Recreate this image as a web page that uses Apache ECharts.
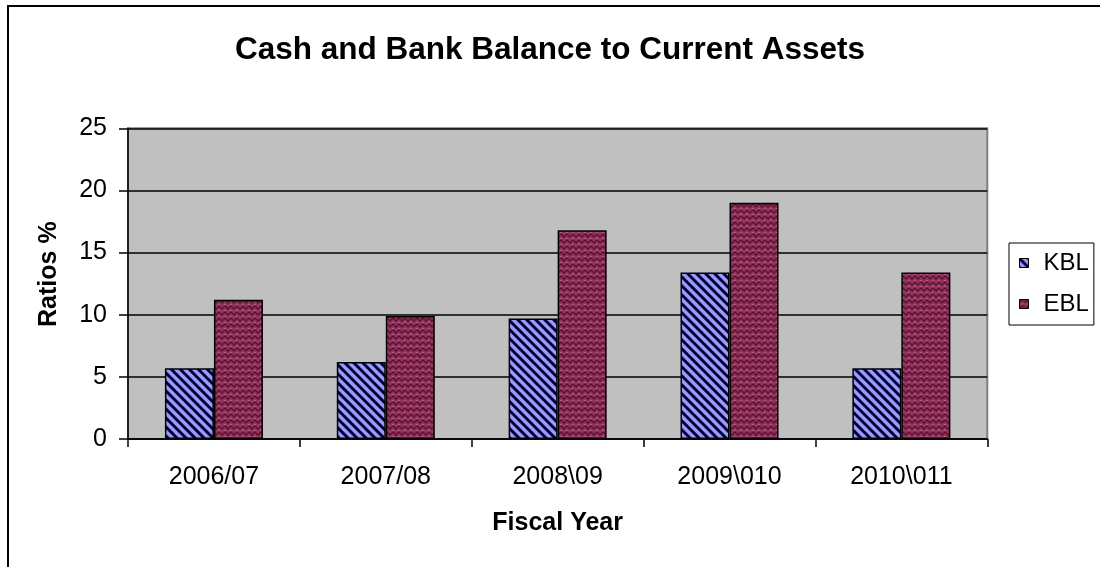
<!DOCTYPE html>
<html>
<head>
<meta charset="utf-8">
<title>Cash and Bank Balance to Current Assets</title>
<script src="https://cdn.jsdelivr.net/npm/echarts@6.0.0/dist/echarts.min.js"></script>
<style>
  html, body { margin: 0; padding: 0; background: #fff; overflow: hidden; }
  #chart { width: 1100px; height: 567px; }
</style>
</head>
<body>
<div id="chart"></div>
<script>
// ---- data ----
const categories = ['2006/07', '2007/08', '2008\\09', '2009\\010', '2010\\011'];
const kblValues = [5.7, 6.2, 9.7, 13.4, 5.7];
const eblValues = [11.2, 9.9, 16.8, 19.0, 13.4];
const seriesNames = ['KBL', 'EBL'];
const yMin = 0, yMax = 25, yStep = 5;

const FONT = "'Liberation Sans', Arial, sans-serif";

// Diagonal stripe fill (light blue with dark navy stripes)
function stripeFill() {
  const W = 36, H = 36, n = 4;
  const c = document.createElement('canvas');
  c.width = W; c.height = H;
  const g = c.getContext('2d');
  g.fillStyle = '#9999FF';
  g.fillRect(0, 0, W, H);
  g.strokeStyle = '#00002e';
  g.lineWidth = 2.9;
  for (let k = -2 * n; k <= 2 * n; k++) {
    const x0 = k * W / n;
    g.beginPath();
    g.moveTo(x0 - W, -H);
    g.lineTo(x0 + 2 * W, 2 * H);
    g.stroke();
  }
  return { image: c, repeat: 'repeat' };
}

// Woven herringbone fill (maroon with darker chevrons and pink flecks)
function weaveFill() {
  const W = 12, H = 12;
  const c = document.createElement('canvas');
  c.width = W; c.height = H;
  const g = c.getContext('2d');
  g.fillStyle = '#96345f';
  g.fillRect(0, 0, W, H);
  g.strokeStyle = '#55122f';
  g.lineWidth = 1.4;
  for (let row = -1; row <= 2; row++) {
    const y = row * 6;
    g.beginPath();
    g.moveTo(-6, y + 3);
    for (let x = -3; x <= W + 6; x += 6) {
      g.lineTo(x, y);
      g.lineTo(x + 3, y + 3);
    }
    g.stroke();
  }
  g.fillStyle = 'rgba(214,128,168,0.7)';
  for (let row = 0; row < 2; row++) {
    for (let x = 0; x < W; x += 6) g.fillRect(x + 2, row * 6 + 4, 1.5, 1);
  }
  return { image: c, repeat: 'repeat' };
}

const chart = echarts.init(document.getElementById('chart'), null, { renderer: 'canvas' });

chart.setOption({
  animation: false,
  backgroundColor: '#ffffff',
  textStyle: { fontFamily: FONT },
  graphic: [{
    type: 'rect',
    silent: true,
    z: -10,
    shape: { x: 8, y: 6, width: 2000, height: 2000 },
    style: { fill: 'none', stroke: '#000', lineWidth: 2 }
  }],
  title: {
    text: 'Cash and Bank Balance to Current Assets',
    left: 'center',
    top: 34,
    padding: [0, 0, 0, 18],
    textStyle: { fontFamily: FONT, fontSize: 31.5, fontWeight: 'bold', color: '#000' }
  },
  legend: {
    data: seriesNames,
    orient: 'vertical',
    left: 1009,
    top: 243,
    padding: [8, 5, 9, 10],
    itemGap: 17,
    itemWidth: 9,
    itemHeight: 9,
    backgroundColor: '#fff',
    borderColor: '#000',
    borderWidth: 1,
    borderRadius: 0,
    icon: 'rect',
    itemStyle: { borderColor: '#000', borderWidth: 1 },
    textStyle: { fontFamily: FONT, fontSize: 24, color: '#000', padding: [0, 0, 0, 10] }
  },
  grid: {
    left: 128,
    right: 112.7,
    top: 128.3,
    bottom: 128,
    show: true,
    backgroundColor: '#C0C0C0',
    borderColor: '#808080',
    borderWidth: 2,
    containLabel: false
  },
  xAxis: {
    type: 'category',
    data: categories,
    boundaryGap: true,
    name: 'Fiscal Year',
    nameLocation: 'middle',
    nameGap: 72,
    nameTextStyle: { fontFamily: FONT, fontSize: 25, fontWeight: 'bold', color: '#000', verticalAlign: 'top' },
    axisLine: { show: true, lineStyle: { color: '#000', width: 1.5 } },
    axisTick: { show: true, length: 8, alignWithLabel: false, lineStyle: { color: '#000', width: 1.5 } },
    axisLabel: { margin: 26, fontFamily: FONT, fontSize: 25, color: '#000' },
    splitLine: { show: false }
  },
  yAxis: {
    type: 'value',
    min: yMin,
    max: yMax,
    interval: yStep,
    name: 'Ratios %',
    nameLocation: 'middle',
    nameGap: 66,
    nameRotate: 90,
    nameTextStyle: { fontFamily: FONT, fontSize: 25, fontWeight: 'bold', color: '#000', padding: [0, 0, 0, 19] },
    axisLine: { show: true, lineStyle: { color: '#000', width: 1.5 } },
    axisTick: { show: true, length: 9, lineStyle: { color: '#000', width: 1.5 } },
    axisLabel: { margin: 21, fontFamily: FONT, fontSize: 25, color: '#000' },
    splitLine: { show: true, lineStyle: { color: '#000', width: 1.5 } }
  },
  series: [
    {
      name: seriesNames[0],
      type: 'bar',
      data: kblValues,
      barWidth: 49,
      barGap: '0%',
      itemStyle: { color: stripeFill(), borderColor: '#000', borderWidth: 1.5 }
    },
    {
      name: seriesNames[1],
      type: 'bar',
      data: eblValues,
      barWidth: 49,
      barGap: '0%',
      itemStyle: { color: weaveFill(), borderColor: '#000', borderWidth: 1.5 }
    }
  ]
});
</script>
</body>
</html>
